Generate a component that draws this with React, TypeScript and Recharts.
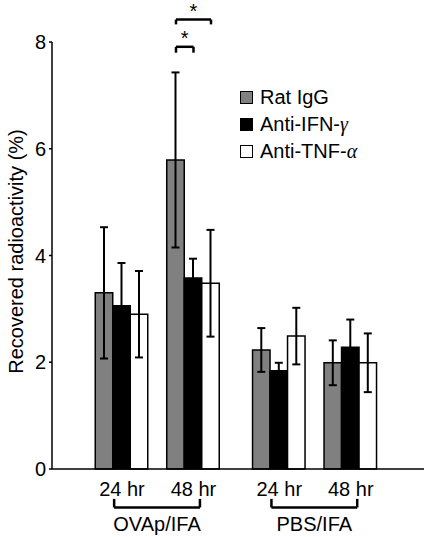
import { Bar, BarChart, ErrorBar, Legend, ReferenceLine, XAxis, YAxis } from 'recharts';

const timepoints = ['24 hr', '48 hr', '24 hr', '48 hr'];
const treatments = ['OVAp/IFA', 'PBS/IFA'];
const yTicks = [0, 2, 4, 6, 8];

const ratIgG = [3.3, 5.79, 2.23, 1.99];
const ratIgGErr = [1.23, 1.64, 0.41, 0.42];
const antiIFNg = [3.06, 3.58, 1.84, 2.28];
const antiIFNgErr = [0.8, 0.36, 0.15, 0.52];
const antiTNFa = [2.9, 3.48, 2.49, 1.99];
const antiTNFaErr = [0.81, 1.0, 0.53, 0.55];

const FONT = '"Liberation Sans", Arial, Helvetica, sans-serif';
const FONT_SIZE = 20;
const BAR = 17.5;
const UNIT_PX = 71.5; // pixels per x unit on the number axis
const GROUP_GAP = 0.2; // extra space between the OVAp and PBS groups

const positions = timepoints.map((_, i) => i + (i >= 2 ? GROUP_GAP : 0));

const data = timepoints.map((t, i) => ({
  pos: positions[i],
  ratIgG: ratIgG[i],
  ratIgGErr: ratIgGErr[i],
  antiIFNg: antiIFNg[i],
  antiIFNgErr: antiIFNgErr[i],
  antiTNFa: antiTNFa[i],
  antiTNFaErr: antiTNFaErr[i],
}));

const series = [
  { key: 'ratIgG', fill: '#808080', name: 'Rat IgG', greek: '' },
  { key: 'antiIFNg', fill: '#000000', name: 'Anti-IFN-', greek: 'γ' },
  { key: 'antiTNFa', fill: '#ffffff', name: 'Anti-TNF-', greek: 'α' },
];

// significance: group index, series a vs series b, bracket height
const comparisons = [
  { group: 1, a: 0, b: 1, y: 7.91, leg: 0.11 },
  { group: 1, a: 0, b: 2, y: 8.42, leg: 0.09 },
];

const barCenter = (group: number, s: number) => positions[group] + ((s - 1) * BAR) / UNIT_PX;

function bracket(x1: number, x2: number, y: number, y2: number, key: string, label?: any) {
  const style = { stroke: '#000', strokeWidth: 2.5, ifOverflow: 'visible' as const };
  return [
    <ReferenceLine key={key + 'h'} segment={[{ x: x1, y }, { x: x2, y }]} {...style} label={label} />,
    <ReferenceLine key={key + 'l'} segment={[{ x: x1, y }, { x: x1, y: y2 }]} {...style} />,
    <ReferenceLine key={key + 'r'} segment={[{ x: x2, y }, { x: x2, y: y2 }]} {...style} />,
  ];
}

function YLabel({ viewBox }: any) {
  const cx = viewBox.x + 16;
  const cy = viewBox.y + viewBox.height / 2 - 4;
  return (
    <text
      x={cx}
      y={cy}
      transform={`rotate(-90, ${cx}, ${cy})`}
      textAnchor="middle"
      dominantBaseline="central"
      fontFamily={FONT}
      fontSize={FONT_SIZE}
      fill="#000"
    >
      Recovered radioactivity (%)
    </text>
  );
}

function LegendBox() {
  return (
    <div style={{ fontFamily: FONT, fontSize: FONT_SIZE, color: '#000' }}>
      {series.map((s) => (
        <div key={s.key} style={{ display: 'flex', alignItems: 'center', height: 27 }}>
          <span
            style={{
              width: 11,
              height: 11,
              background: s.fill,
              border: '1.5px solid #000',
              marginRight: 7,
              display: 'inline-block',
            }}
          />
          <span>
            {s.name}
            {s.greek && (
              <span style={{ fontFamily: '"Liberation Serif", serif', fontStyle: 'italic' }}>{s.greek}</span>
            )}
          </span>
        </div>
      ))}
    </div>
  );
}

export default function App() {
  const axisTick = { fontFamily: FONT, fontSize: FONT_SIZE, fill: '#000' };
  return (
    <div style={{ position: 'absolute', left: 0, top: 0, background: '#fff' }}>
      <BarChart
        width={426}
        height={537}
        data={data}
        margin={{ top: 42, right: 2, bottom: 38, left: 0 }}
        barSize={BAR}
        barGap={0}
      >
        <XAxis
          dataKey="pos"
          type="number"
          domain={[-0.979, 4.224]}
          ticks={positions}
          interval={0}
          tickFormatter={(v) => timepoints[positions.indexOf(v)] ?? ''}
          tickLine={false}
          tickMargin={7}
          axisLine={{ stroke: '#000', strokeWidth: 1.5 }}
          tick={axisTick}
          height={30}
          allowDataOverflow
        />
        <YAxis
          domain={[0, 8]}
          ticks={yTicks}
          width={52}
          tickSize={3}
          tickMargin={3}
          axisLine={{ stroke: '#000', strokeWidth: 1.5 }}
          tickLine={{ stroke: '#000', strokeWidth: 1.5 }}
          tick={axisTick}
          label={YLabel}
        />
        <Legend
          layout="vertical"
          align="center"
          verticalAlign="middle"
          content={LegendBox}
          wrapperStyle={{ left: 240, top: 84, width: 185 }}
        />
        {series.map((s) => (
          <Bar key={s.key} dataKey={s.key} fill={s.fill} stroke="#000" strokeWidth={1.5} isAnimationActive={false}>
            <ErrorBar dataKey={s.key + 'Err'} width={4} stroke="#000" strokeWidth={2} direction="y" />
          </Bar>
        ))}
        {comparisons.flatMap((c, i) =>
          bracket(barCenter(c.group, c.a), barCenter(c.group, c.b), c.y, c.y - c.leg, 'sig' + i, {
            value: '*',
            position: 'top',
            offset: 2,
            fontFamily: FONT,
            fontSize: FONT_SIZE,
            fill: '#000',
          }),
        )}
        {treatments.flatMap((t, i) =>
          bracket(positions[i * 2] - 0.11, positions[i * 2 + 1] + 0.09, -0.72, -0.56, 'grp' + i, {
            value: t,
            position: 'bottom',
            offset: 9,
            fontFamily: FONT,
            fontSize: FONT_SIZE,
            fill: '#000',
          }),
        )}
      </BarChart>
    </div>
  );
}
